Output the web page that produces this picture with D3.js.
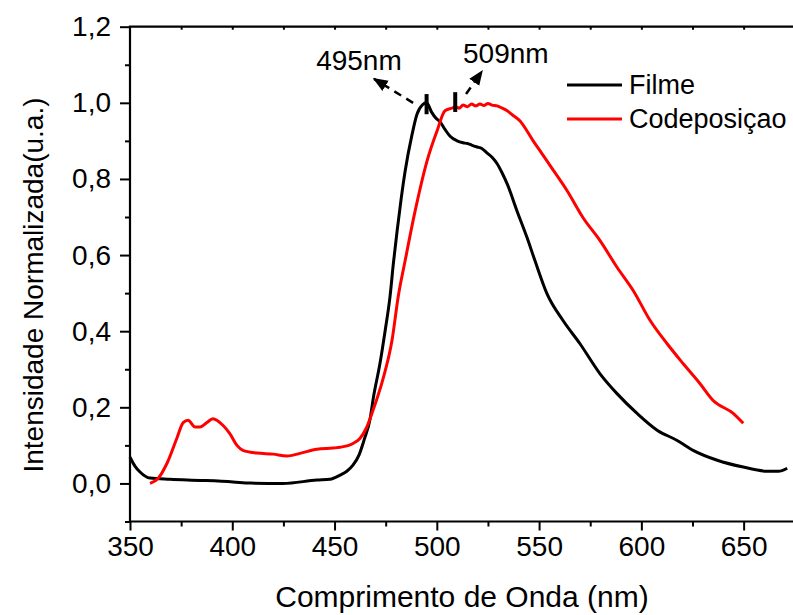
<!DOCTYPE html>
<html>
<head>
<meta charset="utf-8">
<script src="https://cdn.jsdelivr.net/npm/d3@7"></script>
<style>
  html, body { margin: 0; padding: 0; background: #fff; }
  svg { display: block; }
  text { font-family: "Liberation Sans", Arial, sans-serif; fill: #000; }
</style>
</head>
<body>
<svg id="chart" width="793" height="615"></svg>
<script>
// Emission spectra (normalised intensity vs wavelength)
const filmeNm = [350, 352.5, 354.9, 359.8, 369.6, 384.4, 400.4, 408.7, 424.8, 441.4, 447.8, 452.7, 456, 459, 462, 464.5, 467.4, 469, 472.2, 474.7, 477.1, 478.8, 480.6, 482.5, 484.5, 487.9, 490.3, 493, 495, 497.5, 499.5, 501.6, 504, 506.5, 509.9, 512.8, 515, 517, 519.7, 522, 524.6, 527, 529.5, 532, 534.4, 539.2, 544.1, 548.0, 553.9, 561.7, 570.0, 579.8, 588.1, 597.9, 607.7, 617.5, 625.3, 637.1, 649.8, 661.5, 667, 671.3];
const filmeVal = [0.069, 0.045, 0.030, 0.014, 0.011, 0.008, 0.004, 0.001, 0.000, 0.009, 0.011, 0.022, 0.032, 0.048, 0.075, 0.115, 0.170, 0.226, 0.315, 0.400, 0.490, 0.580, 0.664, 0.745, 0.820, 0.917, 0.970, 0.995, 1.000, 0.975, 0.960, 0.950, 0.930, 0.912, 0.900, 0.895, 0.893, 0.889, 0.884, 0.880, 0.868, 0.857, 0.840, 0.815, 0.787, 0.716, 0.646, 0.585, 0.498, 0.428, 0.367, 0.288, 0.236, 0.184, 0.140, 0.113, 0.087, 0.061, 0.043, 0.032, 0.032, 0.040];

const codepNm = [359.8, 363.7, 368.1, 373.0, 376.0, 378.4, 381.8, 384.2, 387.6, 390.5, 395.4, 398.8, 402.3, 405.2, 412.1, 419.9, 426.7, 433.1, 441.4, 449.2, 452.7, 459, 462.4, 465.5, 468.8, 471.2, 473.7, 478.1, 481.1, 484.5, 489.4, 495.2, 500.1, 504.0, 507.9, 509, 511, 512.8, 515, 517, 519, 521.1, 523, 525, 527, 529.5, 532, 534.4, 537, 540.7, 544.1, 547.1, 551, 555.4, 563.7, 571.5, 579.8, 588.1, 596.0, 604.3, 612.6, 620.4, 628.7, 635.1, 644.9, 649.8];
const codepVal = [0.000, 0.013, 0.053, 0.120, 0.160, 0.166, 0.148, 0.148, 0.160, 0.170, 0.153, 0.131, 0.100, 0.087, 0.080, 0.077, 0.072, 0.079, 0.090, 0.093, 0.095, 0.105, 0.118, 0.145, 0.192, 0.230, 0.275, 0.376, 0.490, 0.585, 0.716, 0.847, 0.926, 0.979, 0.987, 0.990, 0.986, 0.994, 0.990, 0.997, 0.992, 0.997, 0.993, 0.998, 0.994, 0.992, 0.986, 0.979, 0.968, 0.952, 0.926, 0.900, 0.870, 0.835, 0.769, 0.698, 0.638, 0.568, 0.507, 0.428, 0.367, 0.315, 0.262, 0.218, 0.184, 0.158];

const seriesNames = ["Filme", "Codeposiçao"];
const seriesColors = ["#000000", "#ff0000"];

const xTicks = [350, 400, 450, 500, 550, 600, 650];
const yTicks = [0.0, 0.2, 0.4, 0.6, 0.8, 1.0, 1.2];

// peak annotations: label, wavelength, marker span, label anchor, arrow
const peakLabels = ["495nm", "509nm"];
const peakNm = [495, 509];
const peakMarkLo = [0.970, 0.976];
const peakMarkHi = [1.023, 1.028];
const labelNm = [441, 512.8];
const labelVal = [1.086, 1.104];
const arrowFrom = [[488.4, 1.000], [514.3, 1.023]];
const arrowTo = [[469.3, 1.063], [522.1, 1.083]];

const svg = d3.select("#chart");
const x = d3.scaleLinear().domain([350, 680]).range([130, 805]);
const y = d3.scaleLinear().domain([-0.1, 1.2]).range([521.5, 26.7]);
const fmt = v => d3.format(".1f")(v).replace(".", ",");

svg.append("defs").append("marker")
  .attr("id", "arrowhead")
  .attr("viewBox", "0 0 10 10")
  .attr("refX", 9).attr("refY", 5)
  .attr("markerWidth", 6).attr("markerHeight", 6)
  .attr("markerUnits", "strokeWidth")
  .attr("orient", "auto")
  .append("path").attr("d", "M0,1 L10,5 L0,9 Z").attr("fill", "#000");

// axes
const xMajor = d3.axisBottom(x).tickValues(xTicks).tickSize(9).tickPadding(6).tickFormat(d3.format("d"));
const xMinor = d3.axisBottom(x).tickValues(d3.range(375, 680, 50)).tickSize(5).tickFormat("");
const xTop = d3.axisTop(x).tickValues(d3.range(375, 680, 25)).tickSize(-3).tickFormat("");
const yMajor = d3.axisLeft(y).tickValues(yTicks).tickSize(10).tickPadding(9).tickFormat(fmt);
const yMinor = d3.axisLeft(y).tickValues([-0.1, 0.1, 0.3, 0.5, 0.7, 0.9, 1.1]).tickSize(5).tickFormat("");

function styleAxis(g) {
  g.selectAll(".domain").remove();
  g.selectAll(".tick line").attr("stroke", "#000").attr("stroke-width", 2);
  g.selectAll(".tick text").style("font-size", "28px").attr("fill", "#000");
}

svg.append("g").attr("transform", `translate(0,${y(-0.1)})`).call(xMajor).call(styleAxis);
svg.append("g").attr("transform", `translate(0,${y(-0.1)})`).call(xMinor).call(styleAxis);
svg.append("g").attr("transform", `translate(0,${y(1.2)})`).call(xTop).call(styleAxis);
svg.append("g").attr("transform", `translate(${x(350)},0)`).call(yMajor).call(styleAxis);
svg.append("g").attr("transform", `translate(${x(350)},0)`).call(yMinor).call(styleAxis);

// frame lines
svg.append("path")
  .attr("d", `M${x(680)},${y(1.2)} H${x(350)} V${y(-0.1)} H${x(680)}`)
  .attr("fill", "none").attr("stroke", "#000").attr("stroke-width", 2.2);

// series
const line = d3.line().x(d => x(d[0])).y(d => y(d[1])).curve(d3.curveMonotoneX);
const filme = filmeNm.map((n, i) => [n, filmeVal[i]]);
const codep = codepNm.map((n, i) => [n, codepVal[i]]);
[filme, codep].forEach((data, i) => {
  svg.append("path").datum(data)
    .attr("d", line)
    .attr("fill", "none")
    .attr("stroke", seriesColors[i])
    .attr("stroke-width", 3)
    .attr("stroke-linejoin", "round");
});

// peak markers, arrows and labels
peakNm.forEach((n, i) => {
  svg.append("line")
    .attr("x1", x(n)).attr("x2", x(n))
    .attr("y1", y(peakMarkLo[i])).attr("y2", y(peakMarkHi[i]))
    .attr("stroke", "#000").attr("stroke-width", 4);
  svg.append("line")
    .attr("x1", x(arrowFrom[i][0])).attr("y1", y(arrowFrom[i][1]))
    .attr("x2", x(arrowTo[i][0])).attr("y2", y(arrowTo[i][1]))
    .attr("stroke", "#000").attr("stroke-width", 2.5)
    .attr("stroke-dasharray", "8,6")
    .attr("marker-end", "url(#arrowhead)");
  svg.append("text")
    .attr("x", x(labelNm[i])).attr("y", y(labelVal[i]))
    .style("font-size", "28px")
    .text(peakLabels[i]);
});

// legend
const legend = svg.append("g").attr("transform", "translate(567,85)");
seriesNames.forEach((name, i) => {
  const g = legend.append("g").attr("transform", `translate(0,${i * 34})`);
  g.append("line").attr("x1", 0).attr("x2", 55).attr("y1", 0).attr("y2", 0)
    .attr("stroke", seriesColors[i]).attr("stroke-width", 3);
  g.append("text").attr("x", 62).attr("y", 0).attr("dy", "0.35em")
    .style("font-size", "27px").text(name);
});

// axis titles
svg.append("text")
  .attr("x", 462).attr("y", 607)
  .attr("text-anchor", "middle").style("font-size", "30px")
  .text("Comprimento de Onda (nm)");
svg.append("text")
  .attr("transform", "translate(43,285) rotate(-90)")
  .attr("text-anchor", "middle").style("font-size", "28px")
  .text("Intensidade Normalizada(u.a.)");
</script>
</body>
</html>
